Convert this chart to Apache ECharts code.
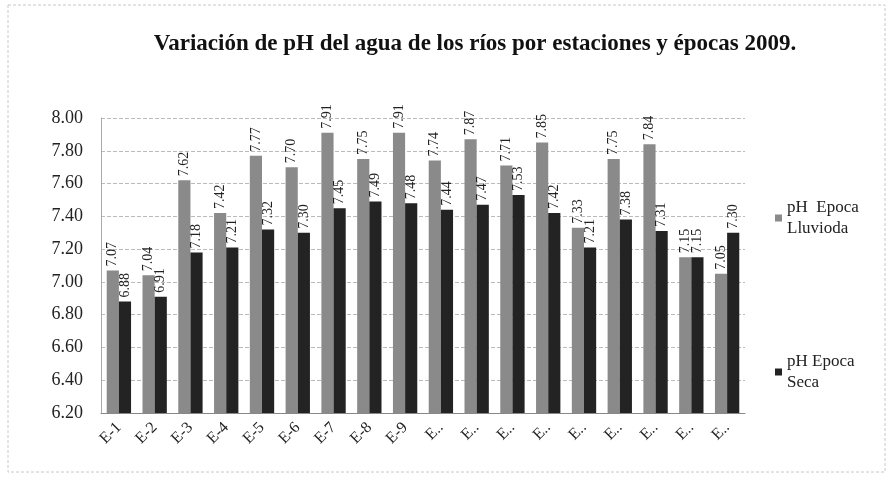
<!DOCTYPE html>
<html>
<head>
<meta charset="utf-8">
<script src="https://cdn.jsdelivr.net/npm/echarts@6/dist/echarts.min.js"></script>
<style>
  html, body { margin: 0; padding: 0; background: #fff; }
  #chart { width: 891px; height: 479px; }
</style>
</head>
<body>
<div id="chart"></div>
<script>
// estaciones
const stations = ["E-1", "E-2", "E-3", "E-4", "E-5", "E-6", "E-7", "E-8", "E-9",
  "E-10", "E-11", "E-12", "E-13", "E-14", "E-15", "E-16", "E-17", "E-18"];
// pH época lluviosa
const phLluvia = [7.07, 7.04, 7.62, 7.42, 7.77, 7.70, 7.91, 7.75, 7.91,
  7.74, 7.87, 7.71, 7.85, 7.33, 7.75, 7.84, 7.15, 7.05];
// pH época seca
const phSeca = [6.88, 6.91, 7.18, 7.21, 7.32, 7.30, 7.45, 7.49, 7.48,
  7.44, 7.47, 7.53, 7.42, 7.21, 7.38, 7.31, 7.15, 7.30];

const serif = "Liberation Serif";

const chart = echarts.init(document.getElementById("chart"));

const labelCfg = {
  show: true,
  position: "top",
  rotate: 90,
  align: "left",
  verticalAlign: "middle",
  distance: 4,
  fontFamily: serif,
  fontSize: 14,
  color: "#222",
  formatter: (p) => p.value.toFixed(2),
};

const option = {
  animation: false,
  backgroundColor: "#fff",
  graphic: [
    {
      type: "rect",
      shape: { x: 8, y: 5, width: 877, height: 467 },
      style: { fill: "none", stroke: "#c8c8c8", lineWidth: 1, lineDash: [3, 2] },
      z: -1,
    },
  ],
  title: {
    text: "Variación de pH del agua de los ríos por estaciones y épocas 2009.",
    left: 470,
    textAlign: "center",
    top: 28,
    textStyle: { fontFamily: serif, fontSize: 23, fontWeight: "bold", color: "#111" },
  },
  legend: {
    orient: "vertical",
    left: 770,
    top: 192,
    itemGap: 112,
    itemWidth: 7,
    itemHeight: 7,
    icon: "rect",
    textStyle: { fontFamily: serif, fontSize: 17, color: "#222", lineHeight: 21 },
    data: ["pH  Epoca\nLluvioda", "pH Epoca\nSeca"],
  },
  grid: { left: 101, right: 146, top: 118, bottom: 66 },
  xAxis: {
    type: "category",
    data: stations,
    axisLine: { lineStyle: { color: "#888" } },
    axisTick: { show: false },
    axisLabel: {
      rotate: 45,
      interval: 0,
      fontFamily: serif,
      fontSize: 16,
      color: "#222",
      margin: 12,
      formatter: (v) => (v.length > 3 ? "E.." : v),
    },
  },
  yAxis: {
    type: "value",
    min: 6.2,
    max: 8.0,
    interval: 0.2,
    axisLine: { show: true, lineStyle: { color: "#aaa" } },
    axisTick: { show: false },
    splitLine: { lineStyle: { color: "#bbb", type: "dashed" } },
    axisLabel: {
      fontFamily: serif,
      fontSize: 18,
      color: "#222",
      margin: 18,
      formatter: (v) => v.toFixed(2),
    },
  },
  series: [
    {
      name: "pH  Epoca\nLluvioda",
      type: "bar",
      data: phLluvia,
      barGap: "0%",
      barCategoryGap: "32%",
      itemStyle: { color: "#8a8a8a" },
      label: labelCfg,
    },
    {
      name: "pH Epoca\nSeca",
      type: "bar",
      data: phSeca,
      itemStyle: { color: "#232323" },
      label: labelCfg,
    },
  ],
};

chart.setOption(option);
</script>
</body>
</html>
